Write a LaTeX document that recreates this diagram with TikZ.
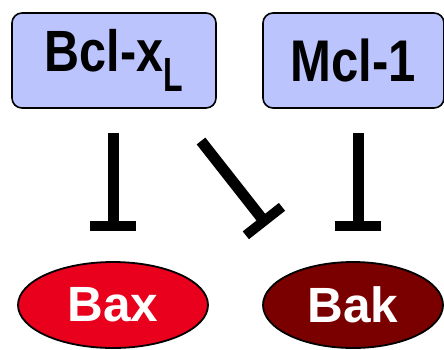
\documentclass[tikz,border=0pt]{standalone}
\usepackage{fontspec}
\setmainfont{Liberation Sans}
\usetikzlibrary{arrows.meta,shapes.geometric}
\definecolor{boxblue}{HTML}{BCC4FE}
\definecolor{baxred}{HTML}{E8001C}
\definecolor{bakred}{HTML}{7A0000}
\tikzset{
  protbox/.style={draw=black, line width=1.6pt, fill=boxblue, rounded corners=10pt, minimum height=95pt, inner sep=0pt},
  protell/.style={ellipse, draw=black, line width=1.8pt, inner sep=0pt, minimum height=86pt, text=white, font=\fontsize{49.5}{49.5}\selectfont\bfseries},
  inhib/.style={line width=11pt, -{Bar[width=46pt,line width=10pt,sep=0pt]}}
}
\begin{document}
\begin{tikzpicture}[x=1pt,y=-1pt]
\useasboundingbox (0,0) rectangle (444,349);
\begin{scope}
\clip (0,0) rectangle (444,349);
\node[protbox, minimum width=204pt] (bcl) at (114,60.5) {\raisebox{1.5pt}{\scalebox{1}[1.2]{\fontsize{48.5}{48.5}\selectfont\bfseries Bcl-x\raisebox{-17pt}{\fontsize{32}{32}\selectfont\scalebox{1}[1.25]{L}}}}};
\node[protbox, minimum width=181pt] (mcl) at (353.5,60.5) {\raisebox{1.5pt}{\scalebox{1}[1.2]{\fontsize{49}{49}\selectfont\bfseries Mcl-1}}};
\node[protell, fill=baxred, minimum width=190pt] (bax) at (113,305) {\raisebox{-3pt}{Bax}};
\node[protell, fill=bakred, minimum width=180pt] (bak) at (353,305) {\raisebox{-3pt}{Bak}};
\end{scope}
\coordinate (s1) at (113,133);
\coordinate (e1) at (113,231);
\coordinate (s2) at (358,133);
\coordinate (e2) at (358,231);
\coordinate (s3) at (201,141);
\coordinate (e3) at (267,225);
\draw[inhib] (s1) -- (e1);
\draw[inhib] (s2) -- (e2);
\draw[inhib] (s3) -- (e3);
\end{tikzpicture}
\end{document}
